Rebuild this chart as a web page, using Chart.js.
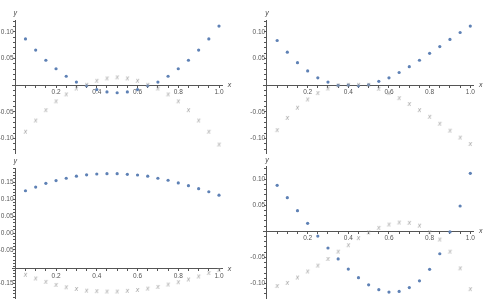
<!DOCTYPE html>
<html><head><meta charset="utf-8">
<script src="https://cdn.jsdelivr.net/npm/chart.js@4"></script>
<style>
html,body{margin:0;padding:0;background:#fff;}
#wrap{position:relative;width:483px;height:307px;overflow:hidden;}
canvas{position:absolute;left:0;top:0;}
</style></head><body>
<div id="wrap">
<canvas id="c1" width="483" height="307"></canvas>
<canvas id="c2" width="483" height="307"></canvas>
<canvas id="c3" width="483" height="307"></canvas>
<canvas id="c4" width="483" height="307"></canvas>
</div>
<script>
// ---- data ----
const xValues = [0.05,0.10,0.15,0.20,0.25,0.30,0.35,0.40,0.45,0.50,0.55,0.60,0.65,0.70,0.75,0.80,0.85,0.90,0.95,1.00];

const blue1 = [0.087,0.066,0.047,0.031,0.017,0.006,-0.001,-0.008,-0.0125,-0.014,-0.0125,-0.008,-0.001,0.006,0.017,0.031,0.047,0.066,0.087,0.111];
const gray1 = [-0.088,-0.067,-0.0475,-0.031,-0.018,-0.007,0.0,0.0075,0.012,0.014,0.012,0.0075,0.0,-0.007,-0.018,-0.031,-0.0475,-0.067,-0.088,-0.112];

const blue2 = [0.084,0.062,0.0425,0.027,0.014,0.006,0.0,0.0006,-0.001,0.001,0.0075,0.014,0.024,0.035,0.047,0.060,0.0725,0.086,0.099,0.111];
const gray2 = [-0.085,-0.062,-0.043,-0.0275,-0.0156,-0.007,-0.001,0.0,0.0,0.0,-0.0075,-0.0156,-0.025,-0.036,-0.0475,-0.060,-0.073,-0.086,-0.099,-0.111];

const blue3 = [0.125,0.136,0.147,0.155,0.162,0.168,0.172,0.1746,0.1755,0.1755,0.1736,0.1716,0.168,0.162,0.156,0.148,0.140,0.131,0.122,0.112];
const gray3 = [-0.125,-0.136,-0.146,-0.155,-0.162,-0.167,-0.172,-0.1736,-0.1746,-0.1746,-0.1726,-0.170,-0.166,-0.161,-0.154,-0.147,-0.139,-0.130,-0.120,-0.111];

const blue4 = [0.0885,0.0647,0.0397,0.0154,-0.009,-0.032,-0.053,-0.0724,-0.089,-0.1026,-0.112,-0.1167,-0.1154,-0.108,-0.095,-0.073,-0.043,-0.001,0.0487,0.1115];
const gray4 = [-0.106,-0.100,-0.0897,-0.078,-0.0667,-0.054,-0.040,-0.0276,-0.014,-0.003,0.0058,0.0122,0.016,0.0154,0.010,-0.0026,-0.0167,-0.040,-0.072,-0.112];

const xTickLabels = [0.2,0.4,0.6,0.8,1.0];
const yTickLabelsA = [-0.10,-0.05,0.05,0.10];
const yTickLabelsC = [-0.15,-0.05,0.00,0.05,0.10,0.15];
const xTitle = 'x';
const yTitle = 'y';

// ---- styling / layout ----
const W = 483, H = 307;
const BLUE = '#5E81B5';
const GRAY = '#9a9a9a';
const AXIS = '#555';
const FONT = '"Liberation Sans", Arial, sans-serif';

function makeXMarker() {
  const c = document.createElement('canvas');
  c.width = 7; c.height = 7;
  const g = c.getContext('2d');
  g.fillStyle = GRAY;
  g.font = 'italic 7px ' + FONT;
  g.textAlign = 'center';
  g.textBaseline = 'middle';
  g.fillText('x', 3.5, 3.2);
  return c;
}
const xMarker = makeXMarker();

function toPoints(ys) { return xValues.map((x, i) => ({x: x, y: ys[i]})); }
function inList(v, list) { return list.some(t => Math.abs(t - v) < 1e-9); }

const axisTitlePlugin = {
  id: 'axisTitles',
  afterDraw(chart) {
    const {ctx, chartArea, scales} = chart;
    const o = chart.options.plugins.axisTitles;
    const yAxisX = scales.x.getPixelForValue(0);
    const xAxisY = scales.y.getPixelForValue(o.xAxisAt);
    ctx.save();
    ctx.fillStyle = '#444';
    ctx.font = 'italic 7px ' + FONT;
    ctx.textAlign = 'center';
    ctx.textBaseline = 'middle';
    ctx.fillText(xTitle, chartArea.right + 7.5, xAxisY);
    ctx.fillText(yTitle, yAxisX, chartArea.top - 7);
    ctx.restore();
  }
};

function makeChart(id, blue, gray, area, xr, yr, xAxisAt, yLabels) {
  new Chart(document.getElementById(id), {
    type: 'scatter',
    data: {
      datasets: [
        {data: toPoints(gray), pointStyle: xMarker, pointRadius: 3.5, showLine: false},
        {data: toPoints(blue), pointStyle: 'circle', pointRadius: 1.6, pointBorderWidth: 0,
         backgroundColor: BLUE, borderColor: BLUE, showLine: false}
      ]
    },
    options: {
      responsive: false, animation: false, events: [],
      layout: {autoPadding: false, padding: {left: area[0], top: area[2], right: W - area[1], bottom: H - area[3]}},
      plugins: {legend: {display: false}, tooltip: {enabled: false}, axisTitles: {xAxisAt: xAxisAt}},
      scales: {
        x: {
          type: 'linear', position: {y: xAxisAt}, min: xr[0], max: xr[1],
          border: {display: true, color: AXIS, width: 1},
          grid: {drawOnChartArea: false, drawTicks: true, tickLength: 2, color: AXIS},
          ticks: {stepSize: 0.05, includeBounds: false, autoSkip: false, maxRotation: 0, minRotation: 0,
                  padding: 1, color: '#555', font: {size: 6.5, family: FONT},
                  callback: v => inList(v, xTickLabels) ? v.toFixed(1) : ''}
        },
        y: {
          type: 'linear', position: {x: 0}, min: yr[0], max: yr[1],
          border: {display: true, color: AXIS, width: 1},
          grid: {drawOnChartArea: false, drawTicks: true, tickLength: 2, color: AXIS},
          ticks: {stepSize: 0.01, includeBounds: false, autoSkip: false,
                  padding: 1, color: '#555', font: {size: 6.5, family: FONT},
                  callback: v => inList(v, yLabels) ? v.toFixed(2) + ' ' : ''}
        }
      }
    },
    plugins: [axisTitlePlugin]
  });
}

// area = [left, right, top, bottom] of chart area in page px
makeChart('c1', blue1, gray1, [12, 222, 20, 153], [-0.0162, 1.0147], [-0.1269, 0.1224], 0, yTickLabelsA);
makeChart('c2', blue2, gray2, [263.7, 473.3, 20, 153], [-0.0162, 1.0148], [-0.1269, 0.1224], 0, yTickLabelsA);
makeChart('c3', blue3, gray3, [12, 222, 168, 298], [-0.0162, 1.0147], [-0.1923, 0.1923], -0.1065, yTickLabelsC);
makeChart('c4', blue4, gray4, [263.7, 473.3, 166.7, 298], [-0.0162, 1.0148], [-0.128, 0.1242], 0, yTickLabelsA);
</script>
</body></html>
